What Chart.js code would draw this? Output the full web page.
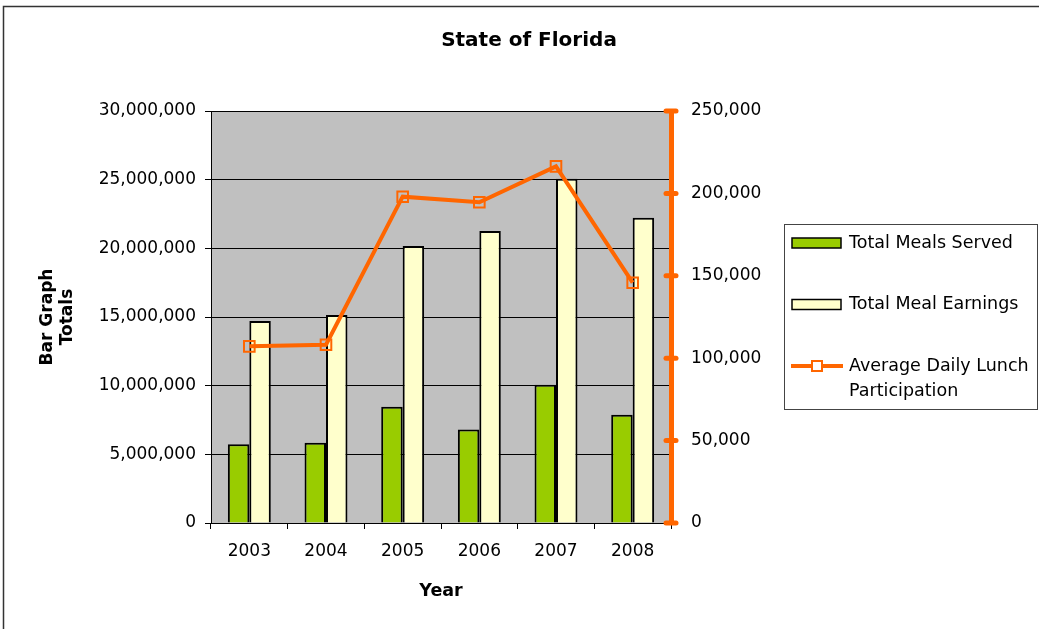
<!DOCTYPE html>
<html>
<head>
<meta charset="utf-8">
<script src="https://cdn.jsdelivr.net/npm/chart.js@4.4.1/dist/chart.umd.min.js"></script>
<style>
  body { margin: 0; background: #fff; }
  #wrap { width: 1039px; height: 629px; }
</style>
</head>
<body>
<div id="wrap"><canvas id="floridaChart" width="1039" height="629"></canvas></div>
<script>
// data
const years = ["2003", "2004", "2005", "2006", "2007", "2008"];
const mealsServed = [5730000, 5850000, 8470000, 6800000, 10070000, 7890000];
const mealEarnings = [14710000, 15150000, 20170000, 21260000, 25070000, 22230000];
const lunchParticipation = [107200, 108200, 198000, 194600, 216400, 145800];

const FONT = "'DejaVu Sans', sans-serif";
const ORANGE = "#FF6600";

function commas(v) {
  return Number(v).toLocaleString("en-US");
}

// white page, grey plot area and the outer frame
const backdrop = {
  id: "backdrop",
  beforeDraw(chart) {
    const ctx = chart.ctx;
    const a = chart.chartArea;
    ctx.save();
    ctx.fillStyle = "#fff";
    ctx.fillRect(0, 0, chart.width, chart.height);
    ctx.fillStyle = "#C0C0C0";
    ctx.fillRect(a.left, a.top, a.right - a.left, a.bottom - a.top);
    ctx.strokeStyle = "#333";
    ctx.lineWidth = 1.5;
    ctx.strokeRect(3.5, 6.5, 1200, 1200);
    ctx.restore();
  },
};

// orange tick bars across the right axis
const rightTicks = {
  id: "rightTicks",
  afterDatasetsDraw(chart) {
    const ctx = chart.ctx;
    const s = chart.scales.y1;
    ctx.save();
    ctx.strokeStyle = ORANGE;
    ctx.lineWidth = 5;
    ctx.lineCap = "round";
    s.ticks.forEach((t) => {
      const y = s.getPixelForValue(t.value);
      ctx.beginPath();
      ctx.moveTo(s.left - 5, y);
      ctx.lineTo(s.left + 5, y);
      ctx.stroke();
    });
    ctx.restore();
  },
};

// boxed legend on the right
const boxLegend = {
  id: "boxLegend",
  afterDraw(chart) {
    const ctx = chart.ctx;
    const bx = 784, by = 224, bw = 253, bh = 185;
    ctx.save();
    ctx.strokeStyle = "#444";
    ctx.lineWidth = 1;
    ctx.strokeRect(bx + 0.5, by + 0.5, bw, bh);
    ctx.font = "17.5px " + FONT;
    ctx.textBaseline = "middle";
    ctx.fillStyle = "#000";
    const textX = 849;
    const maxW = bx + bw - textX - 2;
    chart.data.datasets
      .slice()
      .sort((p, q) => p.legendIndex - q.legendIndex)
      .forEach((ds, i) => {
        const y = 243 + i * 61.5;
        if (ds.type === "line") {
          ctx.strokeStyle = ds.borderColor;
          ctx.lineWidth = 4;
          ctx.beginPath();
          ctx.moveTo(791, y);
          ctx.lineTo(843, y);
          ctx.stroke();
          ctx.lineWidth = 2;
          ctx.fillStyle = "#fff";
          ctx.fillRect(812, y - 5, 10, 10);
          ctx.strokeRect(812, y - 5, 10, 10);
        } else {
          ctx.fillStyle = ds.backgroundColor;
          ctx.fillRect(792, y - 5, 49, 10);
          ctx.strokeStyle = "#000";
          ctx.lineWidth = 1.5;
          ctx.strokeRect(792, y - 5, 49, 10);
        }
        // simple word wrap
        const words = ds.label.split(" ");
        const lines = [];
        let cur = "";
        words.forEach((w) => {
          const test = cur ? cur + " " + w : w;
          if (ctx.measureText(test).width > maxW && cur) {
            lines.push(cur);
            cur = w;
          } else {
            cur = test;
          }
        });
        lines.push(cur);
        ctx.fillStyle = "#000";
        lines.forEach((ln, k) => ctx.fillText(ln, textX, y + k * 25));
      });
    ctx.restore();
  },
};

new Chart(document.getElementById("floridaChart"), {
  data: {
    labels: years,
    datasets: [
      {
        type: "line",
        label: "Average Daily Lunch Participation",
        data: lunchParticipation,
        yAxisID: "y1",
        borderColor: ORANGE,
        borderWidth: 4,
        pointStyle: "rect",
        pointRadius: 7.5,
        pointBorderWidth: 2,
        pointBorderColor: ORANGE,
        pointBackgroundColor: "rgba(0,0,0,0)",
        tension: 0,
        order: 0,
        legendIndex: 2,
      },
      {
        type: "bar",
        label: "Total Meals Served",
        data: mealsServed,
        yAxisID: "y",
        backgroundColor: "#99CC00",
        borderColor: "#000",
        borderWidth: 2,
        categoryPercentage: 0.56,
        barPercentage: 1,
        order: 1,
        legendIndex: 0,
      },
      {
        type: "bar",
        label: "Total Meal Earnings",
        data: mealEarnings,
        yAxisID: "y",
        backgroundColor: "#FFFFCC",
        borderColor: "#000",
        borderWidth: 2,
        categoryPercentage: 0.56,
        barPercentage: 1,
        order: 1,
        legendIndex: 1,
      },
    ],
  },
  options: {
    responsive: false,
    animation: false,
    layout: { padding: { left: 19, right: 0, top: 0, bottom: 0 } },
    plugins: {
      legend: { display: false },
      tooltip: { enabled: false },
      title: {
        display: true,
        text: "State of Florida",
        color: "#000",
        font: { family: FONT, size: 20, weight: "bold" },
        padding: { top: 29, bottom: 58 },
      },
    },
    scales: {
      x: {
        offset: true,
        grid: {
          display: true,
          drawOnChartArea: false,
          drawTicks: true,
          tickLength: 6,
          color: "#000",
        },
        border: { color: "#000", width: 1 },
        ticks: { color: "#000", font: { family: FONT, size: 17 }, padding: 12 },
        title: {
          display: true,
          text: "Year",
          color: "#000",
          font: { family: FONT, size: 17.5, weight: "bold" },
          padding: { top: 0, bottom: 27 },
        },
        afterFit(scale) {
          scale.height = 106;
        },
      },
      y: {
        position: "left",
        min: 0,
        max: 30000000,
        grid: { color: "#000", lineWidth: 1, tickLength: 6 },
        border: { color: "#000", width: 1 },
        ticks: {
          stepSize: 5000000,
          color: "#000",
          font: { family: FONT, size: 17 },
          padding: 9,
          callback: (v) => commas(v),
        },
        title: {
          display: true,
          text: ["Bar Graph", "Totals"],
          color: "#000",
          font: { family: FONT, size: 17, weight: "bold" },
          padding: { top: 18, bottom: 0 },
        },
        afterFit(scale) {
          scale.width = 192;
        },
      },
      y1: {
        position: "right",
        min: 0,
        max: 250000,
        grid: { display: false },
        border: { color: ORANGE, width: 5 },
        ticks: {
          stepSize: 50000,
          color: "#000",
          font: { family: FONT, size: 17 },
          padding: 12,
          callback: (v) => commas(v),
        },
        afterFit(scale) {
          scale.width = 368;
        },
      },
    },
  },
  plugins: [backdrop, rightTicks, boxLegend],
});
</script>
</body>
</html>
